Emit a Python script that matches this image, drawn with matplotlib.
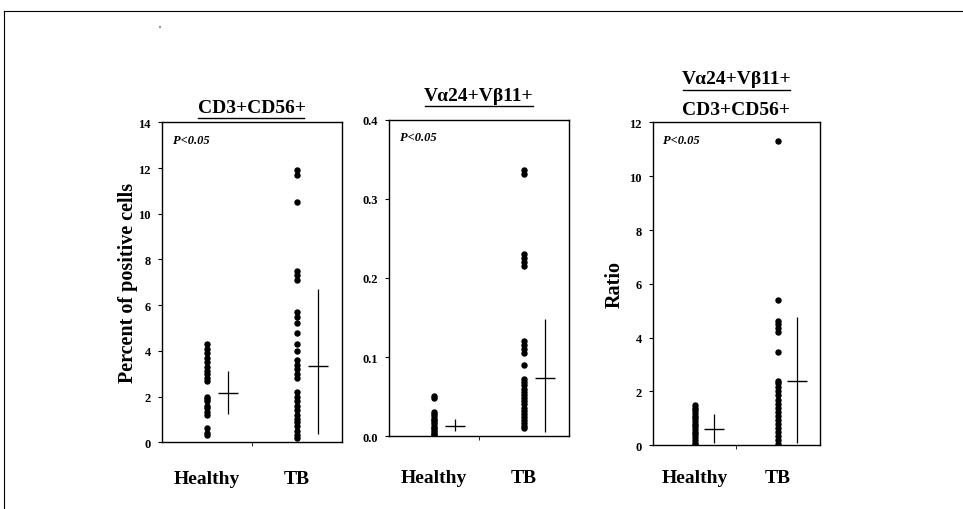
import matplotlib
matplotlib.use("Agg")
import matplotlib.pyplot as plt
from matplotlib.lines import Line2D

plt.rcParams['font.family'] = ['Liberation Serif', 'DejaVu Serif']

groups = ['Healthy', 'TB']

# panel 1: CD3+CD56+ (percent)
cd56_healthy = [0.3, 0.4, 0.6, 1.2, 1.3, 1.5, 1.6, 1.8, 1.9, 2.0, 2.7, 2.8, 3.0, 3.1, 3.3, 3.5, 3.7, 3.9, 4.1, 4.3]
cd56_tb = [0.2, 0.3, 0.5, 0.7, 0.9, 1.0, 1.2, 1.4, 1.6, 1.8, 2.0, 2.2, 2.8, 3.0, 3.2, 3.4, 3.6, 4.0, 4.3,
           4.8, 5.2, 5.5, 5.7, 7.1, 7.3, 7.5, 10.5, 11.7, 11.9]
cd56_mean = [2.15, 3.35]
cd56_low = [1.25, 0.35]
cd56_high = [3.1, 6.7]

# panel 2: Va24+Vb11+ (percent)
va_healthy = [0.001, 0.003, 0.005, 0.008, 0.010, 0.012, 0.015, 0.018, 0.020, 0.022, 0.025, 0.028, 0.030, 0.048, 0.051]
va_tb = [0.010, 0.013, 0.016, 0.020, 0.024, 0.028, 0.032, 0.036, 0.040, 0.044, 0.048, 0.052, 0.056, 0.060, 0.064,
         0.068, 0.072, 0.090, 0.105, 0.110, 0.115, 0.120, 0.215, 0.220, 0.225, 0.230, 0.332, 0.336]
va_mean = [0.013, 0.073]
va_low = [0.006, 0.005]
va_high = [0.021, 0.148]

# panel 3: ratio
ratio_healthy = [0.0, 0.1, 0.2, 0.3, 0.4, 0.5, 0.6, 0.7, 0.8, 0.9, 1.0, 1.1, 1.2, 1.3, 1.4, 1.5]
ratio_tb = [0.05, 0.2, 0.35, 0.5, 0.65, 0.8, 0.95, 1.1, 1.25, 1.4, 1.55, 1.7, 1.85, 2.0, 2.15, 2.3, 2.4,
            3.45, 4.2, 4.35, 4.5, 4.6, 5.4, 11.3]
ratio_mean = [0.6, 2.4]
ratio_low = [0.1, 0.1]
ratio_high = [1.15, 4.75]

fig = plt.figure(figsize=(9.63, 5.10), dpi=100)

# outer frame lines of the scanned figure
fig.add_artist(Line2D([0.004, 1.0], [0.977, 0.977], color='black', lw=0.8))
fig.add_artist(Line2D([0.004, 0.004], [0.0, 0.977], color='black', lw=0.8))
fig.text(0.166, 0.937, "'", fontsize=8, ha='center')


def panel(rect, healthy, tb, mean, low, high, ymax, ystep, fmt, xpad, ylabel=None, ypad=8):
    ax = fig.add_axes(rect)
    xs = [0.5, 1.5]
    ax.plot([xs[0]] * len(healthy), healthy, 'o', color='black', ms=3.6)
    ax.plot([xs[1]] * len(tb), tb, 'o', color='black', ms=3.6)
    for i in range(2):
        x = xs[i] + 0.23
        ax.errorbar(x, mean[i], yerr=[[mean[i] - low[i]], [high[i] - mean[i]]],
                    fmt='_', color='black', ms=15, mew=1.0, elinewidth=0.9, capsize=0)
    ax.set_xlim(0, 2)
    ax.set_ylim(0, ymax)
    ticks = [ystep * k for k in range(int(round(ymax / ystep)) + 1)]
    ax.set_yticks(ticks)
    ax.set_yticklabels([fmt % t for t in ticks], fontsize=9, fontweight='bold')
    ax.tick_params(axis='y', direction='out', length=3, width=0.8, pad=5)
    ax.set_xticks(xs)
    ax.set_xticklabels(groups, fontsize=14, fontweight='bold')
    ax.tick_params(axis='x', length=0, pad=xpad)
    ax.set_xticks([1.0], minor=True)
    ax.tick_params(axis='x', which='minor', direction='out', length=3)
    for s in ax.spines.values():
        s.set_linewidth(1.0)
    ax.text(0.06, 0.965, 'P<0.05', transform=ax.transAxes, fontsize=9,
            fontweight='bold', style='italic', va='top')
    if ylabel:
        ax.set_ylabel(ylabel, fontsize=14.5, fontweight='bold', labelpad=ypad)
    return ax


ax1 = panel([0.168, 0.131, 0.187, 0.627], cd56_healthy, cd56_tb, cd56_mean, cd56_low, cd56_high,
            14, 2, '%d', 20, 'Percent of positive cells', 0)
ax1.text(0.5, 1.02, 'CD3+CD56+', transform=ax1.transAxes, ha='center', va='bottom',
         fontsize=14, fontweight='bold')
ax1.add_artist(Line2D([0.2, 0.79], [1.015, 1.015], transform=ax1.transAxes, color='black', lw=1.0, clip_on=False))

ax2 = panel([0.404, 0.143, 0.187, 0.620], va_healthy, va_tb, va_mean, va_low, va_high,
            0.4, 0.1, '%.1f', 24)
ax2.text(0.5, 1.05, 'Vα24+Vβ11+', transform=ax2.transAxes, ha='center', va='bottom',
         fontsize=14, fontweight='bold')
ax2.add_artist(Line2D([0.2, 0.8], [1.045, 1.045], transform=ax2.transAxes, color='black', lw=1.0, clip_on=False))

ax3 = panel([0.678, 0.125, 0.173, 0.633], ratio_healthy, ratio_tb, ratio_mean, ratio_low, ratio_high,
            12, 2, '%d', 17, 'Ratio', 3)
ax3.text(0.5, 1.11, 'Vα24+Vβ11+', transform=ax3.transAxes, ha='center', va='bottom',
         fontsize=14, fontweight='bold')
ax3.add_artist(Line2D([0.18, 0.82], [1.1, 1.1], transform=ax3.transAxes, color='black', lw=1.0, clip_on=False))
ax3.text(0.5, 1.015, 'CD3+CD56+', transform=ax3.transAxes, ha='center', va='bottom',
         fontsize=14, fontweight='bold')

fig.savefig('out.png', dpi=100)
